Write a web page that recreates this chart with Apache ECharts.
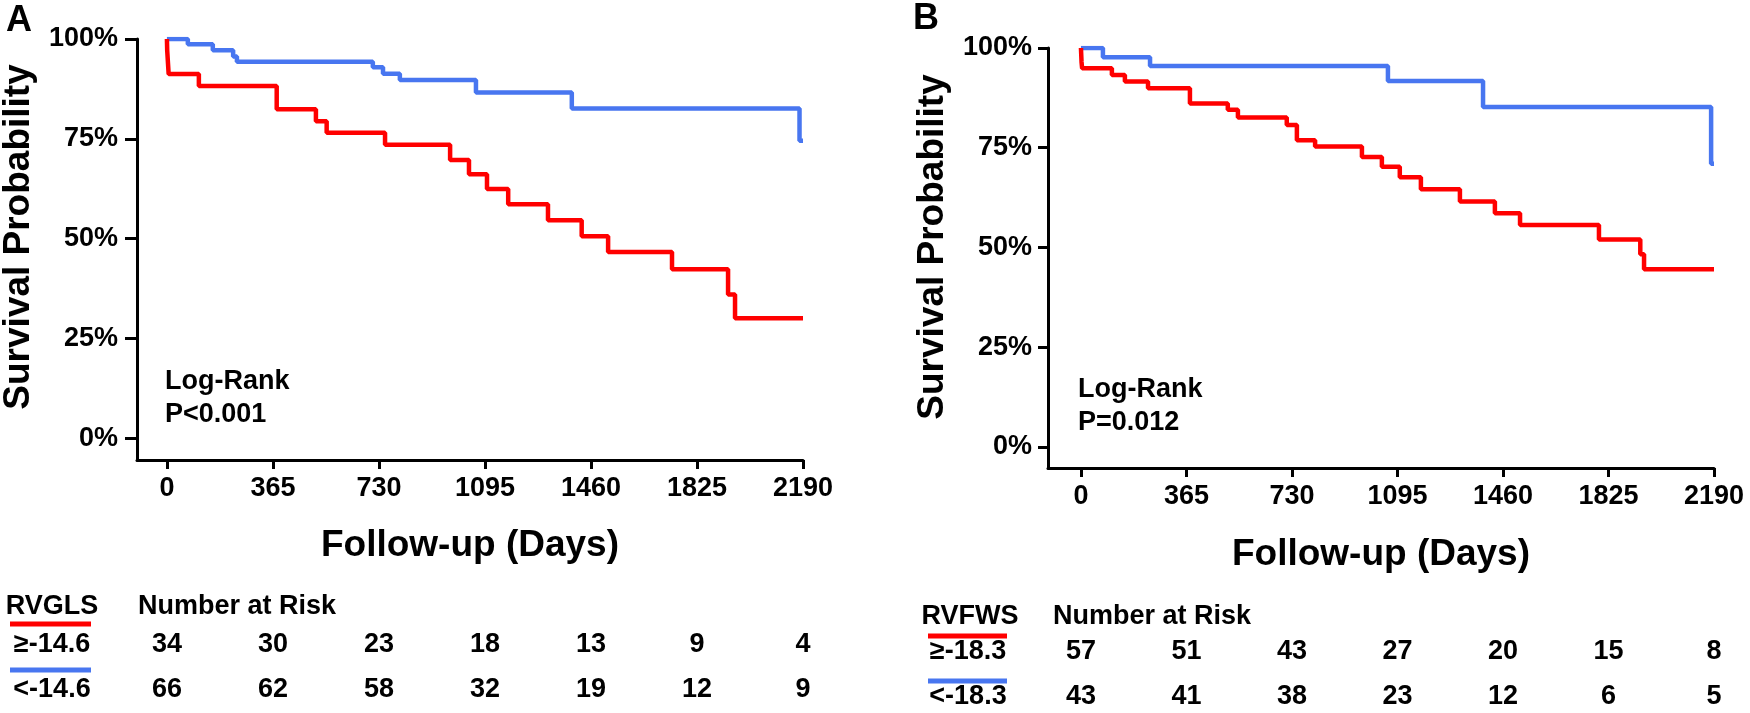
<!DOCTYPE html>
<html>
<head>
<meta charset="utf-8">
<script src="https://cdn.jsdelivr.net/npm/echarts@6/dist/echarts.min.js"></script>
<style>
html,body{margin:0;padding:0;background:#fff;}
#chart{width:1750px;height:713px;}
</style>
</head>
<body>
<div id="chart"></div>
<script>
// ---- data ----
const dayTicks = [0, 365, 730, 1095, 1460, 1825, 2190];
const survTicks = [0, 0.25, 0.5, 0.75, 1];

// Panel A: RVGLS
const redA = [[0,1],[1,0.971],[6,0.912],[110,0.882],[378,0.824],[513,0.794],[550,0.765],[751,0.735],[975,0.697],[1040,0.661],[1102,0.624],[1175,0.586],[1312,0.546],[1428,0.506],[1519,0.466],[1739,0.423],[1932,0.36],[1956,0.30],[2190,0.30]];
const blueA = [[0,1],[72,0.987],[158,0.972],[228,0.956],[241,0.943],[709,0.929],[744,0.913],[802,0.897],[1064,0.866],[1394,0.826],[2178,0.745],[2190,0.745]];
// Panel B: RVFWS
const redB = [[0,1],[2,0.965],[4,0.949],[107,0.932],[152,0.916],[232,0.899],[377,0.861],[508,0.845],[543,0.826],[712,0.807],[747,0.769],[810,0.753],[972,0.727],[1041,0.702],[1103,0.676],[1176,0.646],[1311,0.615],[1432,0.586],[1519,0.556],[1792,0.52],[1935,0.483],[1948,0.445],[2190,0.445]];
const blueB = [[0,1],[76,0.977],[239,0.955],[1062,0.917],[1391,0.852],[2180,0.71],[2190,0.71]];

const groupA = 'RVGLS', groupB = 'RVFWS';
const labelsA = ['≥-14.6', '<-14.6'];
const labelsB = ['≥-18.3', '<-18.3'];
const riskAhi = [34, 30, 23, 18, 13, 9, 4];
const riskAlo = [66, 62, 58, 32, 19, 12, 9];
const riskBhi = [57, 51, 43, 27, 20, 15, 8];
const riskBlo = [43, 41, 38, 23, 12, 6, 5];
const pA = 'P<0.001', pB = 'P=0.012';

// ---- styles ----
const FF = '"Liberation Sans", Arial, sans-serif';
const RED = '#FF0000', BLUE = '#4876F0';
const f = (s) => 'bold ' + s + 'px ' + FF;

function xAxisCfg(idx, min, gap) {
  return {
    type: 'value', gridIndex: idx, min: min, max: 2190,
    axisLine: {onZero: false, lineStyle: {color: '#000', width: 3}},
    axisTick: {show: true, customValues: dayTicks, length: 9, lineStyle: {color: '#000', width: 3}},
    axisLabel: {customValues: dayTicks, formatter: v => String(v), fontSize: 27, fontWeight: 'bold', fontFamily: FF, color: '#000', margin: 15},
    splitLine: {show: false},
    name: 'Follow-up (Days)', nameLocation: 'middle', nameGap: gap,
    nameTextStyle: {fontSize: 37, fontWeight: 'bold', fontFamily: FF, color: '#000'}
  };
}
function yAxisCfg(idx, min, tickLen, margin) {
  return {
    type: 'value', gridIndex: idx, min: min, max: 1,
    axisLine: {show: true, onZero: false, lineStyle: {color: '#000', width: 3}},
    axisTick: {show: true, customValues: survTicks, length: tickLen, lineStyle: {color: '#000', width: 3}},
    axisLabel: {customValues: survTicks, formatter: v => Math.round(v * 100) + '%', fontSize: 27, fontWeight: 'bold', fontFamily: FF, color: '#000', margin: margin},
    splitLine: {show: false}
  };
}
function km(data, color, xi) {
  return {type: 'line', step: 'end', data: data, xAxisIndex: xi, yAxisIndex: xi, showSymbol: false, symbol: 'none',
    lineStyle: {color: color, width: 4.5}, itemStyle: {color: color}, z: color === BLUE ? 3 : 4};
}

const chart = echarts.init(document.getElementById('chart'));
chart.setOption({
  animation: false,
  backgroundColor: '#fff',
  grid: [
    {left: 137, top: 39, width: 666, height: 421, outerBoundsMode: 'none', containLabel: false},
    {left: 1048, top: 48, width: 666, height: 420, outerBoundsMode: 'none', containLabel: false}
  ],
  xAxis: [xAxisCfg(0, -103, 67), xAxisCfg(1, -114, 68)],
  yAxis: [yAxisCfg(0, -0.055, 12, 19), yAxisCfg(1, -0.053, 10, 16)],
  series: [km(blueA, BLUE, 0), km(redA, RED, 0), km(blueB, BLUE, 1), km(redB, RED, 1)]
});

// ---- annotations (risk table positioned through the axis scale) ----
function txt(x, y, text, size, align, rot) {
  return {type: 'text', x: x, y: y, rotation: rot || 0, silent: true,
    style: {text: text, font: f(size), fill: '#000', align: align || 'center', verticalAlign: 'middle'}};
}
function bar(x, y, w, color) {
  return {type: 'rect', silent: true, shape: {x: x, y: y - 2.5, width: w, height: 5}, style: {fill: color}};
}
const g = [];
g.push(txt(19, 21, 'A', 36, 'center'));
g.push(txt(926, 19, 'B', 36, 'center'));
g.push(txt(19, 237, 'Survival Probability', 37, 'center', Math.PI / 2));
g.push(txt(933, 247, 'Survival Probability', 37, 'center', Math.PI / 2));
g.push(txt(165, 382, 'Log-Rank', 27, 'left'));
g.push(txt(165, 415, pA, 27, 'left'));
g.push(txt(1078, 390, 'Log-Rank', 27, 'left'));
g.push(txt(1078, 423, pB, 27, 'left'));

// table A
g.push(txt(52, 607, groupA, 27, 'center'));
g.push(txt(138, 607, 'Number at Risk', 27, 'left'));
g.push(bar(10, 624, 81, RED));
g.push(txt(52, 645, labelsA[0], 27, 'center'));
g.push(bar(10, 670, 81, BLUE));
g.push(txt(52, 690, labelsA[1], 27, 'center'));
// table B
g.push(txt(970, 617, groupB, 27, 'center'));
g.push(txt(1053, 617, 'Number at Risk', 27, 'left'));
g.push(bar(928, 636, 79, RED));
g.push(txt(968, 652, labelsB[0], 27, 'center'));
g.push(bar(928, 681, 79, BLUE));
g.push(txt(968, 697, labelsB[1], 27, 'center'));

dayTicks.forEach((d, i) => {
  const xa = chart.convertToPixel({xAxisIndex: 0}, d);
  const xb = chart.convertToPixel({xAxisIndex: 1}, d);
  g.push(txt(xa, 645, String(riskAhi[i]), 27, 'center'));
  g.push(txt(xa, 690, String(riskAlo[i]), 27, 'center'));
  g.push(txt(xb, 652, String(riskBhi[i]), 27, 'center'));
  g.push(txt(xb, 697, String(riskBlo[i]), 27, 'center'));
});
chart.setOption({graphic: g});
</script>
</body>
</html>
